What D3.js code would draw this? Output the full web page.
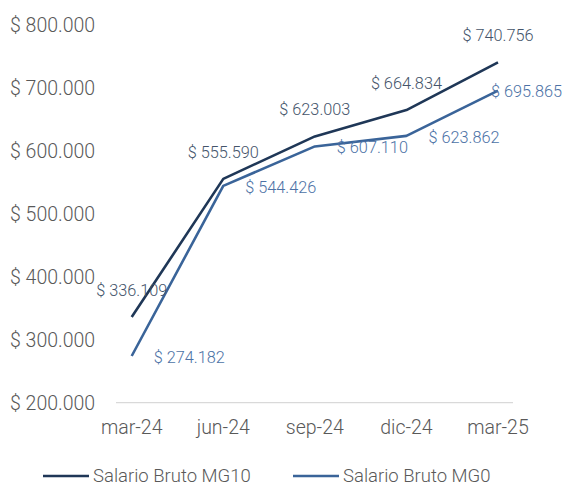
<!DOCTYPE html>
<html lang="es">
<head>
<meta charset="UTF-8">
<title>Salario Bruto</title>
<script src="https://cdnjs.cloudflare.com/ajax/libs/d3/7.8.5/d3.min.js"></script>
<style>
  body { margin: 0; background: #fff; }
  svg text { font-family: Roboto, "Noto Sans", sans-serif; font-weight: 300; }
</style>
</head>
<body>
<svg id="chart" width="567" height="487"></svg>
<script>
    const periods = ["mar-24", "jun-24", "sep-24", "dic-24", "mar-25"];
    const mg10 = [336109, 555590, 623003, 664834, 740756];
    const mg0 = [274182, 544426, 607110, 623862, 695865];
    const yTicks = [200000, 300000, 400000, 500000, 600000, 700000, 800000];

    const navy = "#1f3757", blue = "#3a6499";
    const navyLabel = "#44546a", blueLabel = "#4c72a6";

    const svg = d3.select("#chart");
    const x = d3.scalePoint().domain(periods).range([131.7, 498]);
    const y = d3.scaleLinear().domain([200000, 800000]).range([402.7, 25]);

    const fmt = v => "$ " + d3.format(",")(v).replace(/,/g, ".");

    // y tick labels (no gridlines)
    svg.append("g").selectAll("text")
        .data(yTicks).enter().append("text")
        .attr("x", 10).attr("y", d => y(d))
        .attr("dy", "0.35em")
        .attr("font-size", 19.5).attr("fill", "#595959")
        .text(d => fmt(d));

    // x axis line + labels
    svg.append("line")
        .attr("x1", 116).attr("x2", 513)
        .attr("y1", y(200000)).attr("y2", y(200000))
        .attr("stroke", "#d9d9d9").attr("stroke-width", 1.3);

    svg.append("g").selectAll("text")
        .data(periods).enter().append("text")
        .attr("x", d => x(d)).attr("y", 427)
        .attr("dy", "0.35em").attr("text-anchor", "middle")
        .attr("font-size", 19.5).attr("fill", "#595959")
        .text(d => d);

    let line = d3.line().x((d, i) => x(periods[i])).y(d => y(d));

    svg.append("path").datum(mg10)
        .attr("d", line).attr("fill", "none")
        .attr("stroke", navy).attr("stroke-width", 2.6).attr("stroke-linejoin", "round");
    svg.append("path").datum(mg0)
        .attr("d", line).attr("fill", "none")
        .attr("stroke", blue).attr("stroke-width", 2.6).attr("stroke-linejoin", "round");

    // data labels: MG10 above, MG0 to the right
    svg.append("g").selectAll("text")
        .data(mg10).enter().append("text")
        .attr("x", (d, i) => x(periods[i]))
        .attr("y", d => y(d) - 27)
        .attr("dy", "0.35em").attr("text-anchor", "middle")
        .attr("font-size", 16.3).attr("fill", navyLabel)
        .text(d => fmt(d));

    svg.append("g").selectAll("text")
        .data(mg0).enter().append("text")
        .attr("x", (d, i) => Math.min(x(periods[i]) + 22, 491))
        .attr("y", d => y(d) + 1)
        .attr("dy", "0.35em")
        .attr("font-size", 16.3).attr("fill", blueLabel)
        .text(d => fmt(d));

    // legend
    const legend = [["Salario Bruto MG10", navy, 43], ["Salario Bruto MG0", blue, 293]];
    legend.forEach(([name, color, lx]) => {
        svg.append("line")
            .attr("x1", lx).attr("x2", lx + 46)
            .attr("y1", 476).attr("y2", 476)
            .attr("stroke", color).attr("stroke-width", 2.6);
        svg.append("text")
            .attr("x", lx + 50).attr("y", 476).attr("dy", "0.35em")
            .attr("font-size", 18.5).attr("fill", "#595959")
            .text(name);
    });
</script>
</body>
</html>
